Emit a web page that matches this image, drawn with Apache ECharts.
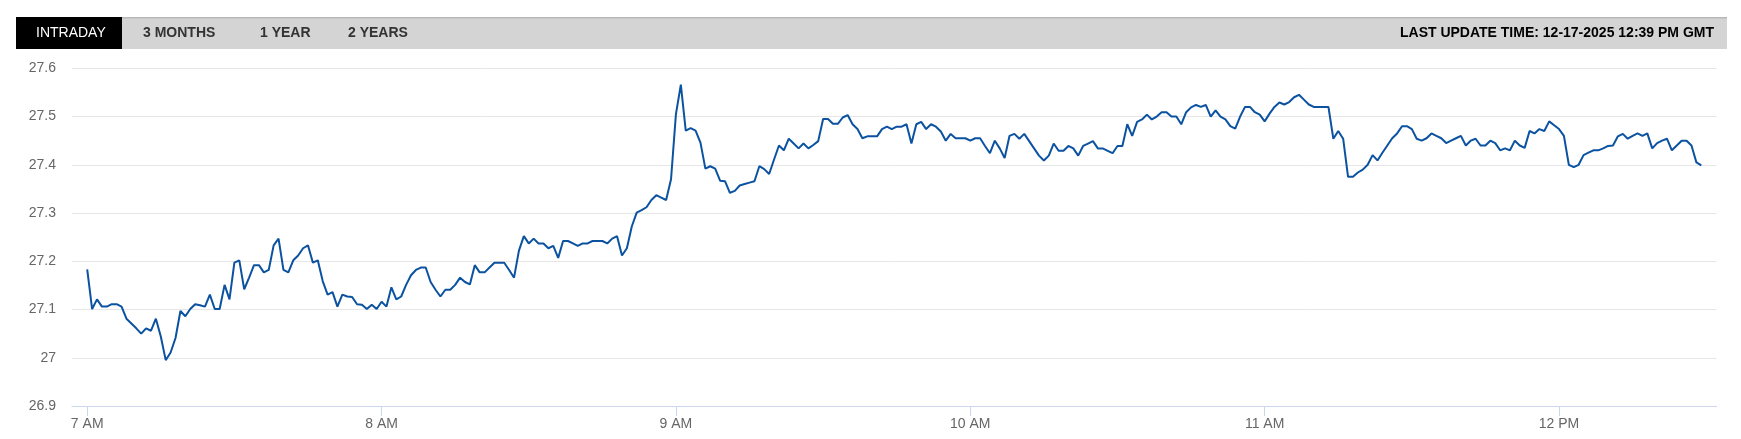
<!DOCTYPE html>
<html>
<head>
<meta charset="utf-8">
<script src="https://cdn.jsdelivr.net/npm/echarts@6/dist/echarts.min.js"></script>
<style>
html,body{margin:0;padding:0;background:#fff;}
#chart{width:1741px;height:439px;}
</style>
</head>
<body>
<div id="chart"></div>
<script>
// Minute offsets from 7:00 AM for hour tick labels
const hourTicks = [0, 60, 120, 180, 240, 300];
const hourLabels = ['7 AM', '8 AM', '9 AM', '10 AM', '11 AM', '12 PM'];
const tabs = ['INTRADAY', '3 MONTHS', '1 YEAR', '2 YEARS'];
const updateText = 'LAST UPDATE TIME: 12-17-2025 12:39 PM GMT';
const yTicks = [26.9, 27, 27.1, 27.2, 27.3, 27.4, 27.5, 27.6];

// One value per minute, starting 7:00 AM
const prices = [
27.183,27.101,27.121,27.106,27.106,27.111,27.111,27.106,27.081,27.071,
27.061,27.050,27.061,27.056,27.081,27.044,26.995,27.011,27.041,27.097,
27.086,27.101,27.111,27.109,27.106,27.131,27.101,27.101,27.151,27.121,
27.197,27.202,27.142,27.166,27.192,27.192,27.177,27.182,27.233,27.247,
27.182,27.177,27.202,27.212,27.227,27.233,27.197,27.202,27.159,27.131,
27.136,27.106,27.131,27.127,27.126,27.111,27.110,27.101,27.110,27.101,
27.116,27.106,27.146,27.121,27.127,27.151,27.171,27.182,27.187,27.187,
27.157,27.141,27.127,27.141,27.141,27.151,27.166,27.157,27.152,27.192,
27.177,27.177,27.187,27.197,27.197,27.197,27.182,27.166,27.222,27.252,
27.237,27.247,27.237,27.237,27.227,27.232,27.207,27.242,27.242,27.237,
27.232,27.237,27.237,27.242,27.242,27.242,27.237,27.247,27.252,27.212,
27.227,27.272,27.301,27.306,27.312,27.327,27.337,27.332,27.327,27.370,
27.505,27.566,27.471,27.476,27.471,27.446,27.392,27.397,27.392,27.367,
27.366,27.342,27.346,27.357,27.360,27.363,27.366,27.397,27.391,27.381,
27.411,27.440,27.430,27.454,27.444,27.434,27.444,27.434,27.441,27.449,
27.495,27.495,27.485,27.485,27.498,27.503,27.484,27.474,27.455,27.459,
27.459,27.459,27.474,27.479,27.474,27.479,27.479,27.484,27.444,27.484,
27.489,27.474,27.484,27.479,27.469,27.450,27.464,27.455,27.455,27.455,
27.450,27.455,27.455,27.439,27.424,27.450,27.434,27.414,27.460,27.464,
27.454,27.464,27.449,27.434,27.419,27.409,27.419,27.444,27.429,27.429,
27.439,27.434,27.419,27.439,27.444,27.449,27.434,27.434,27.429,27.424,
27.439,27.439,27.484,27.460,27.489,27.494,27.504,27.494,27.500,27.509,
27.509,27.500,27.500,27.484,27.509,27.519,27.524,27.520,27.524,27.500,
27.513,27.500,27.494,27.480,27.475,27.500,27.520,27.520,27.509,27.504,
27.490,27.506,27.520,27.529,27.525,27.530,27.540,27.545,27.535,27.525,
27.520,27.520,27.520,27.520,27.454,27.470,27.454,27.375,27.375,27.384,
27.390,27.400,27.420,27.409,27.425,27.440,27.455,27.465,27.480,27.480,
27.474,27.454,27.450,27.455,27.465,27.460,27.455,27.445,27.450,27.455,
27.460,27.440,27.450,27.454,27.440,27.440,27.450,27.445,27.430,27.434,
27.430,27.450,27.440,27.435,27.470,27.465,27.474,27.470,27.490,27.482,
27.474,27.460,27.400,27.395,27.400,27.420,27.425,27.430,27.430,27.434,
27.439,27.440,27.459,27.464,27.454,27.460,27.465,27.460,27.465,27.434,
27.445,27.450,27.454,27.430,27.440,27.450,27.450,27.440,27.405,27.399
];

const chart = echarts.init(document.getElementById('chart'), null, {renderer: 'canvas'});
const FONT = '"Liberation Sans", Arial, sans-serif';

const tabX = [36, 143, 260, 348];
const graphics = [
  {type: 'rect', shape: {x: 16, y: 17, width: 1711, height: 32}, style: {fill: '#d4d4d4'}, silent: true},
  {type: 'rect', shape: {x: 16, y: 17, width: 1711, height: 1.5}, style: {fill: '#b8b8b8'}, silent: true},
  {type: 'rect', shape: {x: 16, y: 17, width: 106, height: 32}, style: {fill: '#000000'}, silent: true}
];
tabs.forEach((t, i) => {
  graphics.push({
    type: 'text', x: tabX[i], y: 33,
    style: {text: t, fill: i === 0 ? '#ffffff' : '#333333', font: (i === 0 ? 'normal ' : 'bold ') + '14px ' + FONT, textVerticalAlign: 'middle', textAlign: 'left'},
    silent: true
  });
});
graphics.push({
  type: 'text', x: 1714, y: 33,
  style: {text: updateText, fill: '#000000', font: 'bold 14px ' + FONT, textVerticalAlign: 'middle', textAlign: 'right'},
  silent: true
});

chart.setOption({
  animation: false,
  backgroundColor: '#ffffff',
  graphic: graphics,
  grid: {left: 72, right: 24.5, top: 68.3, bottom: 33, containLabel: false},
  xAxis: {
    type: 'value',
    min: -3.1,
    max: 332.1,
    splitLine: {show: false},
    axisLine: {show: true, lineStyle: {color: '#ccd6eb', width: 1}},
    axisTick: {show: true, customValues: hourTicks, length: 10, lineStyle: {color: '#ccd6eb'}},
    axisLabel: {
      customValues: hourTicks,
      color: '#666666', fontSize: 14, fontFamily: FONT, margin: 11,
      formatter: v => hourLabels[hourTicks.indexOf(v)] || ''
    }
  },
  yAxis: {
    type: 'value',
    min: 26.9, max: 27.6, interval: 0.1,
    axisLine: {show: false},
    axisTick: {show: false},
    splitLine: {lineStyle: {color: '#e6e6e6', width: 1}},
    axisLabel: {
      color: '#666666', fontSize: 14, fontFamily: FONT, margin: 16,
      formatter: v => {
        const r = Math.round(v * 10) / 10;
        return String(r);
      }
    }
  },
  series: [{
    type: 'line',
    data: prices.map((v, i) => [i, v]),
    showSymbol: false,
    lineStyle: {color: '#0b52a0', width: 2},
    itemStyle: {color: '#0b52a0'},
    z: 3
  }]
});
</script>
</body>
</html>
